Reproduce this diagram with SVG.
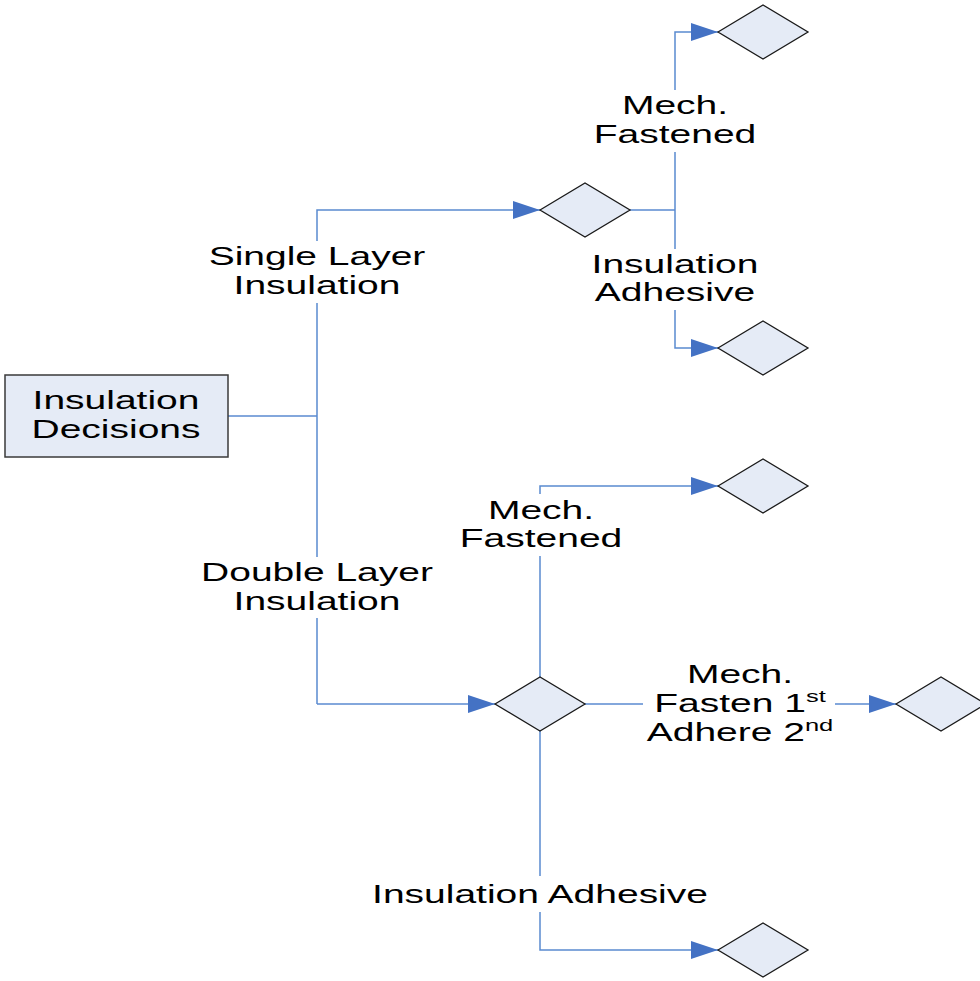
<svg xmlns="http://www.w3.org/2000/svg" width="980" height="981" viewBox="0 0 980 981">
  <style>
    .box { fill: #E5EBF6; stroke: #3A3A3A; stroke-width: 1.5; }
    .dia { fill: #E5EBF6; stroke: #1A1A1A; stroke-width: 1.3; }
    .ln { fill: none; stroke: #5A8AD0; stroke-width: 1.5; }
    .lbl { font-family: "Liberation Sans", Arial, sans-serif; font-size: 26px; fill: #000; text-anchor: middle; }
    .bg { fill: #FFFFFF; stroke: none; }
  </style>
  <defs>
    <marker id="arrow" viewBox="0 0 27 18" refX="27" refY="9" markerWidth="27" markerHeight="18" markerUnits="userSpaceOnUse" orient="auto">
      <path d="M0,0 L27,9 L0,18 Z" fill="#4472C4"/>
    </marker>
  </defs>
  <rect width="980" height="981" fill="#FFFFFF"/>

  <!-- connectors -->
  <g id="connectors">
    <path class="ln" d="M228,416 H317"/>
    <path class="ln" d="M317,704 V210 H540" marker-end="url(#arrow)"/>
    <path class="ln" d="M317,704 H495" marker-end="url(#arrow)"/>
    <path class="ln" d="M630,210 H675"/>
    <path class="ln" d="M675,210 V32 H718" marker-end="url(#arrow)"/>
    <path class="ln" d="M675,210 V348 H718" marker-end="url(#arrow)"/>
    <path class="ln" d="M540,677 V486 H718" marker-end="url(#arrow)"/>
    <path class="ln" d="M585,704 H896" marker-end="url(#arrow)"/>
    <path class="ln" d="M540,731 V950 H718" marker-end="url(#arrow)"/>
  </g>

  <!-- connector labels (white backing breaks the lines) -->
  <g id="labels">
    <rect class="bg" x="300" y="241" width="34" height="62"/>
    <text class="lbl" transform="translate(317 265) scale(1.5 1)">Single Layer</text>
    <text class="lbl" transform="translate(317 294) scale(1.5 1)">Insulation</text>

    <rect class="bg" x="300" y="557" width="34" height="61"/>
    <text class="lbl" transform="translate(317 581) scale(1.5 1)">Double Layer</text>
    <text class="lbl" transform="translate(317 610) scale(1.5 1)">Insulation</text>

    <rect class="bg" x="660" y="90" width="30" height="62"/>
    <text class="lbl" transform="translate(675 114) scale(1.5 1)">Mech.</text>
    <text class="lbl" transform="translate(675 143) scale(1.5 1)">Fastened</text>

    <rect class="bg" x="660" y="249" width="30" height="61"/>
    <text class="lbl" transform="translate(675 273) scale(1.5 1)">Insulation</text>
    <text class="lbl" transform="translate(675 301) scale(1.5 1)">Adhesive</text>

    <rect class="bg" x="525" y="494" width="30" height="62"/>
    <text class="lbl" transform="translate(541 519) scale(1.5 1)">Mech.</text>
    <text class="lbl" transform="translate(541 547) scale(1.5 1)">Fastened</text>

    <rect class="bg" x="643" y="690" width="192" height="30"/>
    <text class="lbl" transform="translate(740 683) scale(1.5 1)">Mech.</text>
    <text class="lbl" transform="translate(740 712) scale(1.5 1)">Fasten 1<tspan font-size="17" dy="-10">st</tspan></text>
    <text class="lbl" transform="translate(740 741) scale(1.5 1)">Adhere 2<tspan font-size="17" dy="-10">nd</tspan></text>

    <rect class="bg" x="525" y="876" width="30" height="36"/>
    <text class="lbl" transform="translate(540 903) scale(1.5 1)">Insulation Adhesive</text>
  </g>

  <!-- nodes -->
  <g id="root">
    <rect class="box" x="5" y="375" width="223" height="82"/>
    <text class="lbl" transform="translate(116 409) scale(1.5 1)">Insulation</text>
    <text class="lbl" transform="translate(116 438) scale(1.5 1)">Decisions</text>
  </g>
  <g id="single"><path class="dia" d="M540,210 L585,183 L630,210 L585,237 Z"/></g>
  <g id="single-mech"><path class="dia" d="M718,32 L763,5 L808,32 L763,59 Z"/></g>
  <g id="single-adh"><path class="dia" d="M718,348 L763,321 L808,348 L763,375 Z"/></g>
  <g id="double"><path class="dia" d="M495,704 L540,677 L585,704 L540,731 Z"/></g>
  <g id="double-mech"><path class="dia" d="M718,486 L763,459 L808,486 L763,513 Z"/></g>
  <g id="double-combo"><path class="dia" d="M896,704 L941,677 L986,704 L941,731 Z"/></g>
  <g id="double-adh"><path class="dia" d="M718,950 L763,923 L808,950 L763,977 Z"/></g>
</svg>
